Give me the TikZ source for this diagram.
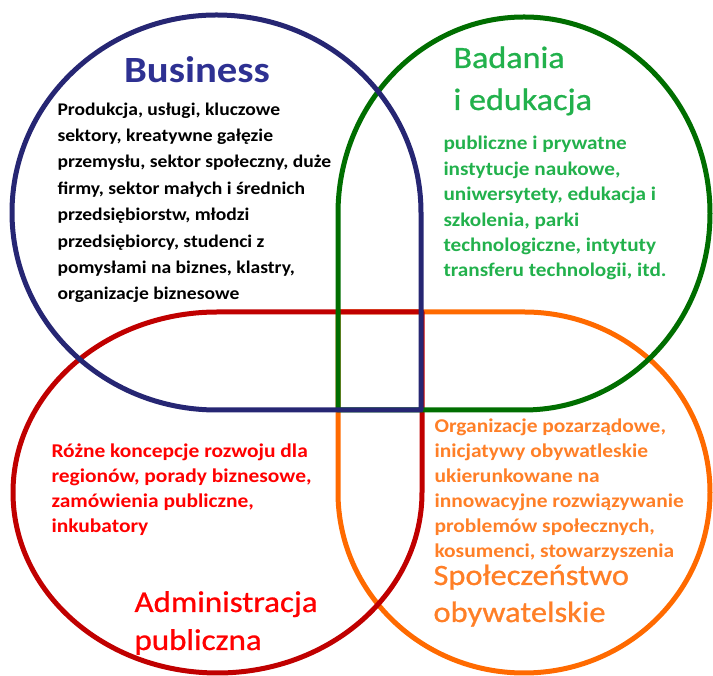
\documentclass[tikz,border=0pt]{standalone}
\usepackage{fontspec}
\setmainfont{Carlito}[FakeStretch=1.1]
\newfontfamily\headfont{Carlito}[FakeStretch=1.1,FakeBold=0.8]
\usepackage{tikz}
\usetikzlibrary{positioning}

\definecolor{bizline}{HTML}{262673}
\definecolor{biztext}{HTML}{2E3192}
\definecolor{eduline}{HTML}{006E00}
\definecolor{edutext}{HTML}{22B14C}
\definecolor{admline}{HTML}{C00000}
\definecolor{admtext}{HTML}{FF0000}
\definecolor{socline}{HTML}{FF6A00}
\definecolor{soctext}{HTML}{FF7F27}

\begin{document}
\begin{tikzpicture}[x=1pt,y=1pt,line width=5pt,line join=round,
      title/.style={inner sep=0pt,align=left,anchor=base west,font=\headfont\fontsize{30}{38}\selectfont},
      body/.style={inner sep=0pt,align=left,anchor=base west,font=\bfseries\fontsize{19.5}{25}\selectfont}]
	\useasboundingbox (0,0) rectangle (713,676);
	% the four fields, each a circle with one square corner
	\draw[socline] (338,364) -- (524,364) arc[start angle=90,end angle=-180,x radius=186,y radius=180.5] -- cycle;
	\draw[admline] (422,364) -- (217.5,364) arc[start angle=90,end angle=360,x radius=204.5,y radius=180.5] -- cycle;
	\draw[eduline] (338,266) -- (338,462.5) arc[start angle=180,end angle=-90,x radius=186,y radius=196.5] -- cycle;
	\draw[bizline] (421,266) -- (421,463.5) arc[start angle=0,end angle=270,x radius=204.5,y radius=197.5] -- cycle;
	% titles (anchored at the baseline of the last line)
	\node[title,anchor=base,text=biztext,font=\bfseries\fontsize{37}{40}\selectfont] (biz) at (197,593) {Business};
	\node[title,text=edutext,font=\headfont\fontsize{31}{42}\selectfont] (edu) at (451,566) {Badania\\i edukacja};
	\node[title,text=admtext] (adm) at (132,26) {Administracja\\publiczna};
	\node[title,text=soctext,font=\headfont\fontsize{29.5}{37}\selectfont] (soc) at (431,54) {Społeczeństwo\\obywatelskie};
	% descriptions
	\node[body,text=black,font=\bfseries\fontsize{17.8}{26.4}\selectfont] (bizdesc) at (55,376) {Produkcja, usługi, kluczowe\\sektory, kreatywne gałęzie\\przemysłu, sektor społeczny, duże\\firmy, sektor małych i średnich\\przedsiębiorstw, młodzi\\przedsiębiorcy, studenci z\\pomysłami na biznes, klastry,\\organizacje biznesowe};
	\node[body,text=edutext,font=\bfseries\fontsize{19.3}{25.4}\selectfont] (edudesc) at (441,399) {publiczne i prywatne\\instytucje naukowe,\\uniwersytety, edukacja i\\szkolenia, parki\\technologiczne, intytuty\\transferu technologii, itd.};
	\node[body,text=admtext] (admdesc) at (49,143) {Różne koncepcje rozwoju dla\\regionów, porady biznesowe,\\zamówienia publiczne,\\inkubatory};
	\node[body,text=soctext] (socdesc) at (432,118) {Organizacje pozarządowe,\\inicjatywy obywatleskie\\ukierunkowane na\\innowacyjne rozwiązywanie\\problemów społecznych,\\kosumenci, stowarzyszenia};
\end{tikzpicture}
\end{document}
